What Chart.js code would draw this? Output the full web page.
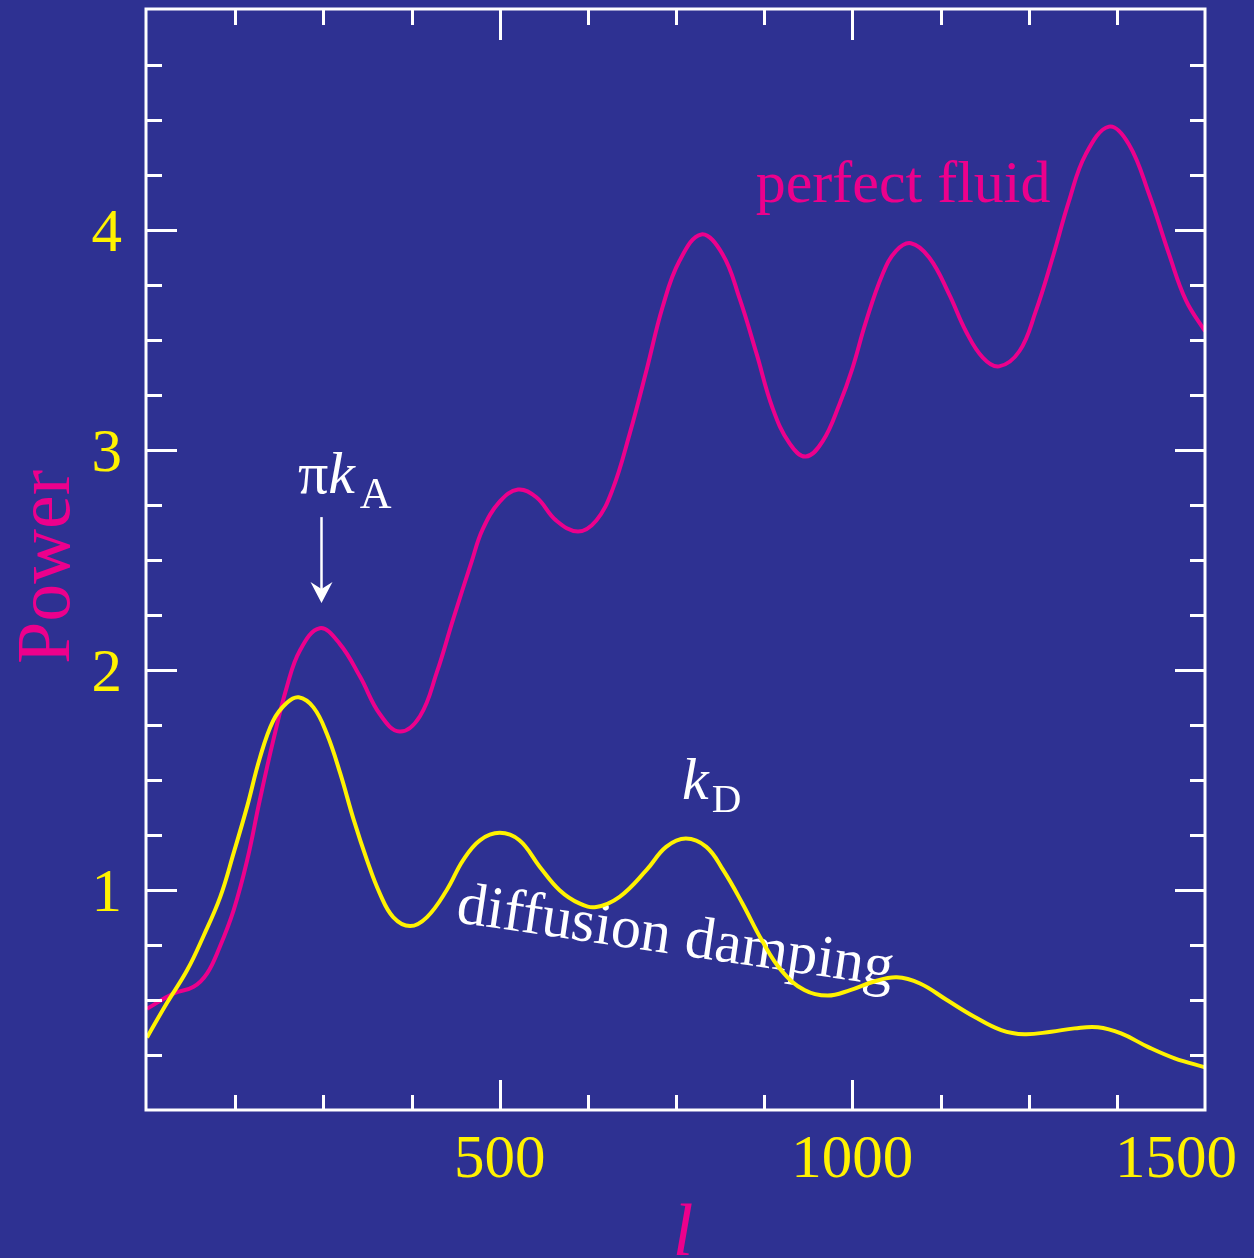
<!DOCTYPE html>
<html>
<head>
<meta charset="utf-8">
<title>Power spectrum: perfect fluid vs diffusion damping</title>
<script src="https://cdn.jsdelivr.net/npm/chart.js@4.4.1/dist/chart.umd.min.js"></script>
<style>
  html, body { margin: 0; padding: 0; background: #2e3192; }
  canvas { display: block; }
</style>
</head>
<body>
<canvas id="chart" width="1254" height="1258"></canvas>
<script>
// perfect fluid curve (multipole l, power)
const FLUID_L = [
  0, 38, 66, 85, 103, 123, 142, 160, 179, 198, 217, 245, 273, 302, 330, 358,
  387, 411, 434, 460, 476, 500, 526, 552, 580, 611, 637, 660, 684, 708, 731,
  755, 786, 816, 840, 864, 887, 911, 934, 958, 982, 1000, 1019, 1043, 1062,
  1083, 1109, 1137, 1161, 1185, 1208, 1237, 1260, 1284, 1307, 1331, 1364,
  1392, 1421, 1449, 1473, 1500,
];
const FLUID_P = [
  0.46, 0.53, 0.56, 0.62, 0.74, 0.91, 1.135, 1.41, 1.68, 1.92, 2.09, 2.19,
  2.12, 1.97, 1.80, 1.72, 1.79, 1.99, 2.23, 2.49, 2.64, 2.765, 2.82, 2.785,
  2.68, 2.63, 2.68, 2.82, 3.07, 3.36, 3.65, 3.86, 3.98, 3.89, 3.69, 3.44,
  3.19, 3.03, 2.97, 3.04, 3.21, 3.37, 3.58, 3.80, 3.905, 3.94, 3.875, 3.71,
  3.54, 3.42, 3.38, 3.45, 3.63, 3.875, 4.13, 4.345, 4.47, 4.39, 4.16, 3.89,
  3.68, 3.54,
];

// damped curve (multipole l, power)
const DAMPED_L = [
  0, 28, 57, 80, 104, 123, 142, 160, 179, 198, 215, 236, 255, 274, 293, 312,
  330, 349, 373, 397, 425, 448, 472, 500, 528, 557, 585, 613, 637, 670, 708,
  736, 764, 793, 817, 844, 872, 899, 932, 965, 997, 1030, 1063, 1096, 1134,
  1173, 1211, 1244, 1282, 1315, 1348, 1381, 1419, 1457, 1500,
];
const DAMPED_P = [
  0.33, 0.485, 0.636, 0.79, 0.97, 1.17, 1.38, 1.60, 1.77, 1.85, 1.876, 1.83,
  1.71, 1.53, 1.32, 1.135, 0.985, 0.877, 0.836, 0.877, 1.0, 1.135, 1.226,
  1.26, 1.226, 1.105, 0.999, 0.939, 0.923, 0.969, 1.09, 1.196, 1.234, 1.196,
  1.09, 0.94, 0.77, 0.636, 0.545, 0.52, 0.545, 0.583, 0.603, 0.575, 0.50,
  0.424, 0.363, 0.344, 0.356, 0.371, 0.376, 0.348, 0.287, 0.235, 0.194,
];

// axis ranges and labelled ticks
const X_RANGE = [0, 1500];
const Y_RANGE = [0, 5];
const X_LABELS = [500, 1000, 1500];
const Y_LABELS = [1, 2, 3, 4];

// colours
const BG = '#2e3192',
      PINK = '#ec008c',
      YELLOW = '#fff200',
      WHITE = '#ffffff';

const SERIF = '"Liberation Serif", "Times New Roman", serif';

// annotation anchors in data units (l, power)
const FLUID_NOTE = { x: 1072, y: 4.127 };
const KA_NOTE = { x: 214, y: 2.805 };
const KA_ARROW = { x: 246.7, y0: 2.695, y1: 2.305 };
const KD_NOTE = { x: 758.5, y: 1.414 };
const DAMP_NOTE = { x: 436.7, y: 0.855, angle: 8.4 };

// draw a run of text pieces (font, dx, dy) left to right
const draw_run = (ctx, x, y, parts, color) => {
  ctx.fillStyle = color;
  ctx.textAlign = 'left';
  ctx.textBaseline = 'alphabetic';
  for (const p of parts) {
    ctx.font = p.font;
    ctx.fillText(p.text, x + (p.dx || 0), y + (p.dy || 0));
    x += ctx.measureText(p.text).width + (p.dx || 0);
  }
};

// background, boxed axes with inward ticks, labels and annotations
const frame_plugin = {
  id: 'frame',

  beforeDraw(chart) {
    const ctx = chart.ctx;
    ctx.save();
    ctx.fillStyle = BG;
    ctx.fillRect(0, 0, chart.width, chart.height);
    ctx.restore();
  },

  beforeDatasetsDraw(chart) {
    const { ctx, scales: { x, y } } = chart;

    // rotated note along the damped curve
    ctx.save();
    ctx.translate(x.getPixelForValue(DAMP_NOTE.x), y.getPixelForValue(DAMP_NOTE.y));
    ctx.rotate(DAMP_NOTE.angle * Math.PI / 180);
    ctx.fillStyle = WHITE;
    ctx.font = `60px ${SERIF}`;
    ctx.textAlign = 'left';
    ctx.textBaseline = 'alphabetic';
    ctx.fillText('diffusion damping', 0, 0);
    ctx.restore();
  },

  afterDatasetsDraw(chart) {
    const { ctx, chartArea: a, scales: { x, y } } = chart;
    const near = (v, t) => Math.abs(v - t) < 1e-6;

    ctx.save();
    ctx.strokeStyle = WHITE;
    ctx.lineWidth = 3;
    ctx.lineCap = 'butt';

    // box
    ctx.strokeRect(a.left - 1, a.top - 1, a.right - a.left + 1, a.bottom - a.top + 1);

    // x ticks, top and bottom
    ctx.beginPath();
    for (const t of x.ticks) {
      if (near(t.value, X_RANGE[0]) || near(t.value, X_RANGE[1])) continue;
      const px = Math.round(x.getPixelForValue(t.value)) + 0.5,
            len = near(t.value % 500, 0) ? 30 : 15;
      ctx.moveTo(px, a.bottom);
      ctx.lineTo(px, a.bottom - len);
      ctx.moveTo(px, a.top);
      ctx.lineTo(px, a.top + len);
    }

    // y ticks, left and right
    for (const t of y.ticks) {
      if (near(t.value, Y_RANGE[0]) || near(t.value, Y_RANGE[1])) continue;
      const py = Math.round(y.getPixelForValue(t.value)) + 0.5,
            len = near(t.value, Math.round(t.value)) ? 30 : 15;
      ctx.moveTo(a.left, py);
      ctx.lineTo(a.left + len, py);
      ctx.moveTo(a.right, py);
      ctx.lineTo(a.right - len, py);
    }
    ctx.stroke();

    // tick labels
    ctx.fillStyle = YELLOW;
    ctx.font = `61px ${SERIF}`;
    ctx.textBaseline = 'alphabetic';
    ctx.textAlign = 'right';
    for (const v of Y_LABELS) {
      ctx.fillText(String(v), a.left - 25, y.getPixelForValue(v) + 21);
    }
    ctx.textAlign = 'center';
    for (const v of X_LABELS) {
      const s = String(v),
            w = ctx.measureText(s).width,
            px = Math.min(x.getPixelForValue(v), chart.width - 17 - w / 2);
      ctx.fillText(s, px, a.bottom + 67);
    }

    // axis titles
    ctx.fillStyle = PINK;
    ctx.font = `76px ${SERIF}`;
    ctx.save();
    ctx.translate(69, (a.top + a.bottom) / 2 + 7);
    ctx.rotate(-Math.PI / 2);
    ctx.textAlign = 'center';
    ctx.fillText('Power', 0, 0);
    ctx.restore();

    ctx.font = `italic 74px ${SERIF}`;
    ctx.textAlign = 'center';
    ctx.fillText('l', (a.left + a.right) / 2 + 7, chart.height - 3);

    // curve labels
    ctx.font = `60px ${SERIF}`;
    ctx.textAlign = 'center';
    ctx.fillText('perfect fluid', x.getPixelForValue(FLUID_NOTE.x), y.getPixelForValue(FLUID_NOTE.y));

    draw_run(ctx, x.getPixelForValue(KA_NOTE.x), y.getPixelForValue(KA_NOTE.y), [
      { text: 'π', font: `60px ${SERIF}` },
      { text: 'k', font: `italic 60px ${SERIF}` },
      { text: 'A', font: `44px ${SERIF}`, dx: 5, dy: 15 },
    ], WHITE);

    draw_run(ctx, x.getPixelForValue(KD_NOTE.x), y.getPixelForValue(KD_NOTE.y), [
      { text: 'k', font: `italic 60px ${SERIF}` },
      { text: 'D', font: `41px ${SERIF}`, dx: 3, dy: 13 },
    ], WHITE);

    // arrow pointing at the first fluid peak
    const ax = Math.round(x.getPixelForValue(KA_ARROW.x)) + 0.5,
          ay0 = y.getPixelForValue(KA_ARROW.y0),
          ay1 = y.getPixelForValue(KA_ARROW.y1);
    ctx.strokeStyle = WHITE;
    ctx.fillStyle = WHITE;
    ctx.lineWidth = 2.5;
    ctx.beginPath();
    ctx.moveTo(ax, ay0);
    ctx.lineTo(ax, ay1 - 12);
    ctx.stroke();
    ctx.beginPath();
    ctx.moveTo(ax, ay1);
    ctx.lineTo(ax - 11, ay1 - 21);
    ctx.lineTo(ax, ay1 - 14);
    ctx.lineTo(ax + 11, ay1 - 21);
    ctx.closePath();
    ctx.fill();

    ctx.restore();
  },
};

const make_set = (xs, ys, color) => ({
  data: xs.map((v, i) => ({ x: v, y: ys[i] })),
  borderColor: color,
  borderWidth: 4,
  borderJoinStyle: 'round',
  pointRadius: 0,
  fill: false,
  tension: 0.4,
});

new Chart(document.getElementById('chart'), {
  type: 'line',
  data: {
    // first dataset is drawn on top
    datasets: [
      make_set(DAMPED_L, DAMPED_P, YELLOW),
      make_set(FLUID_L, FLUID_P, PINK),
    ],
  },
  options: {
    responsive: false,
    animation: false,
    events: [],
    layout: { padding: { top: 10, right: 49, left: 0, bottom: 0 } },
    plugins: {
      legend: { display: false },
      tooltip: { enabled: false },
    },
    scales: {
      x: {
        type: 'linear',
        min: X_RANGE[0],
        max: X_RANGE[1],
        ticks: { stepSize: 125, display: false },
        grid: { display: false },
        border: { display: false },
        afterFit: (s) => { s.height = 148; },
      },
      y: {
        type: 'linear',
        min: Y_RANGE[0],
        max: Y_RANGE[1],
        ticks: { stepSize: 0.25, display: false },
        grid: { display: false },
        border: { display: false },
        afterFit: (s) => { s.width = 147; },
      },
    },
  },
  plugins: [frame_plugin],
});
</script>
</body>
</html>
